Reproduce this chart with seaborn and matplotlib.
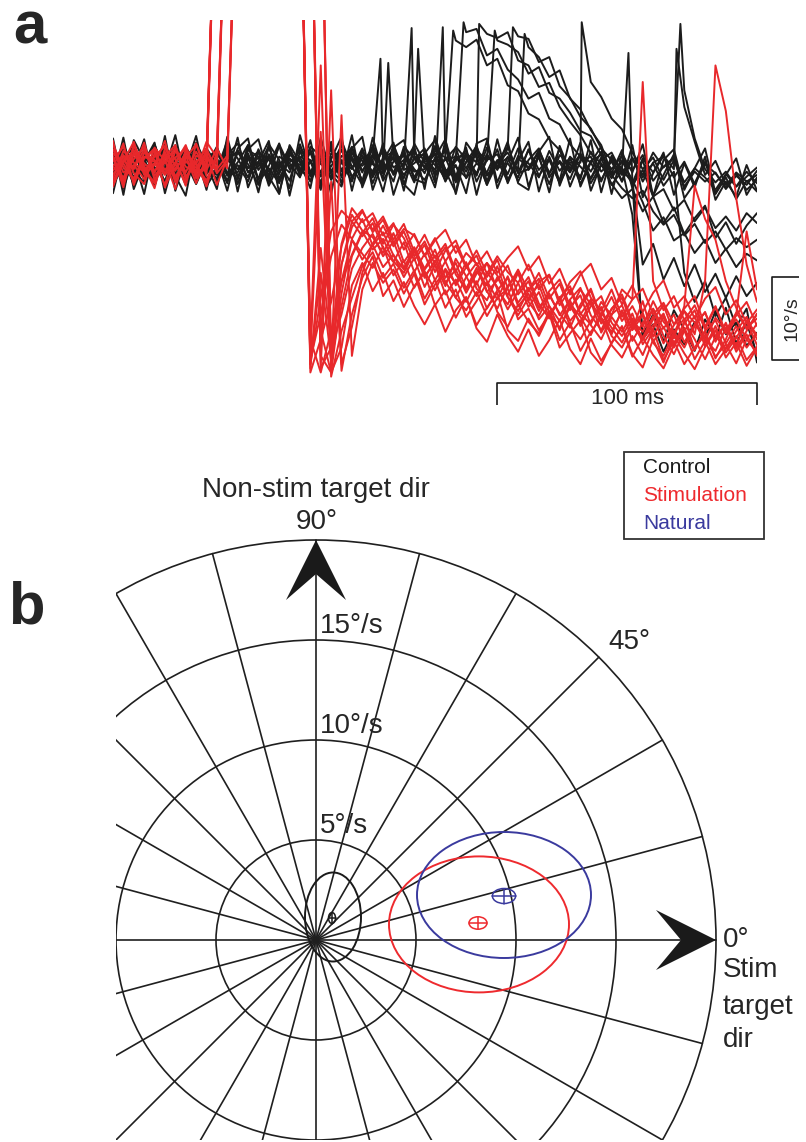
import numpy as np
import pandas as pd
import seaborn as sns
import matplotlib.pyplot as plt
from matplotlib.patches import Ellipse, Polygon, Circle
from matplotlib.lines import Line2D

# ---------------- panel a : eye velocity traces (deg/s), one sample every 4 ms
DT = 4

c01 = [1.2, -0.8, 2.1, -1.5, 0.4, 2.6, -0.9, 1.1, -2.2, 0.7,
       1.9, -1.0, 0.3, 2.4, -1.8, 0.9, -0.2, 2.0, -1.3, 0.6,
       -2.1, 1.4, 0.2, 2.2, -0.7, 1.0, -0.3, 0.8, -1.6, 1.7,
       -0.4, 2.3, -1.2, 0.5, 1.8, -2.0, 0.6, 1.3, -1.1, 2.0,
       -0.6, 0.9, -2.3, 1.2, 0.1, -1.4, 1.6, -0.8, 0.4, -2.0,
       0.7, -1.2, 1.5, -0.3, 0.8, 9.0, 3.2, -0.5, -2.1, -0.8,
       -2.6, -1.4, -0.3]
c02 = [-1.5, 0.9, -2.4, 1.6, -0.3, -1.9, 1.4, -0.6, 2.3, -1.1,
       0.5, -2.2, 1.8, -0.4, 0.9, -1.7, 2.5, -0.2, 1.0, -2.0,
       0.8, -0.9, 1.9, -1.4, 0.2, 2.1, -0.8, 0.6, 1.2, -1.5,
       0.9, -0.6, 2.0, -1.8, 0.4, 1.1, -2.4, 0.3, 1.5, -0.9,
       1.8, -1.3, 0.6, -2.1, 1.0, -0.2, -1.6, 0.9, -2.4, -0.7,
       -1.9, -12.0, -9.5, -13.8, -11.2, -14.6, -12.0, -15.3, -13.1, -16.0,
       -13.4, -15.8, -14.2]
c03 = [0.3, 2.2, -1.0, 0.8, -2.5, 1.5, 0.1, -1.3, 2.0, -0.5,
       -1.6, 1.2, 2.6, -0.9, 0.4, -2.1, 1.0, 0.2, -1.5, 2.2,
       1.1, -1.7, 0.6, -0.5, 2.0, -2.2, 0.9, 1.6, -0.4, 0.9,
       1.3, -1.0, 0.7, 2.1, -1.6, 0.2, -0.9, 1.9, -2.2, 0.8,
       -0.3, 1.5, -1.1, 2.0, -2.6, 0.5, 1.0, -1.8, 0.6, -0.4,
       -2.2, 0.8, -0.9, 1.1, -0.5, 7.0, 2.8, -1.2, 0.5, -2.4,
       -1.0, -3.0, -1.8]
c04 = [-2.3, -0.2, 1.7, -1.1, 0.9, -0.5, 2.4, -1.9, 0.3, 1.3,
       -0.8, 2.0, -1.4, 0.6, 1.6, -2.5, 0.2, -0.9, 2.1, 0.4,
       -1.3, 2.3, -0.6, 1.0, -2.0, 0.7, 1.5, -1.2, 0.3, 2.0,
       0.4, 0.5, -1.8, 1.2, -0.4, 2.2, -1.3, 0.6, -2.0, 1.1,
       0.2, -1.5, 1.7, -0.7, 0.9, -2.3, 0.5, 1.2, -1.0, -0.3,
       -6.0, -20.5, -18.0, -21.3, -17.5, -19.8, -22.4, -18.6, -20.9, -17.2,
       -21.5, -19.0, -22.8]
c05 = [1.6, -1.2, 0.5, 2.3, -0.7, 0.1, -2.1, 1.8, -0.3, 0.9,
       -2.0, 0.6, -0.5, 1.4, -1.7, 2.1, -0.8, 0.3, 1.7, -1.4,
       0.4, 1.9, -2.3, 0.8, -0.1, 1.2, -1.5, 2.4, -0.6, 0.2,
       1.5, -2.1, 0.6, 1.0, -0.8, 1.7, -1.9, 0.4, 2.2, -1.0,
       -0.5, 1.8, -0.9, 0.3, -1.7, 1.4, -2.2, 0.0, -1.2, -2.8,
       -4.0, -3.1, -5.6, -7.2, -6.0, -8.5, -7.1, -9.4, -8.0, -10.2,
       -8.8, -9.9, -9.0]
c06 = [-0.6, 1.9, -1.7, 0.2, 2.5, -1.0, 0.8, -2.4, 1.1, -0.1,
       2.2, -1.3, 0.0, -2.0, 1.5, 0.6, -1.1, 1.9, -0.4, -1.9,
       1.3, -0.2, 2.4, -1.6, 0.9, -0.8, 2.0, -1.0, 1.4, -0.5,
       -1.8, 0.7, 1.6, 15.0, 14.2, 15.1, 12.0, 12.8, 9.6, 8.9,
       6.2, 5.5, 3.1, 1.8, -0.4, 1.3, -1.7, 0.6, 1.5, -1.0,
       0.9, -2.0, 0.3, 1.0, -1.5, 0.4, -2.3, 0.1, -1.0, -2.7,
       -0.9, -2.0, -1.2]
c07 = [2.0, 0.4, -1.5, 1.2, -0.9, 2.3, -0.3, 0.6, -1.8, 1.5,
       -0.7, 1.6, -2.3, 0.9, 0.2, -1.2, 2.3, -0.5, 0.8, 1.9,
       -1.4, 0.5, -0.8, 2.1, -2.2, 1.3, 0.1, -0.9, 1.8, -1.7,
       0.6, 1.4, -1.0, 0.8, 16.0, 16.4, 13.2, 14.0, 11.5, 10.3,
       8.0, 8.7, 5.6, 4.9, 2.5, 1.0, -0.8, 1.6, -1.3, 0.4,
       -0.6, 1.2, -1.9, -0.2, 0.9, -2.1, -0.4, -1.5, -3.0, -1.1,
       -2.6, -0.8, -2.2]
c08 = [-1.1, 0.7, 2.2, -1.9, 1.0, -0.4, 1.5, 0.3, -2.3, 0.6,
       1.3, -0.3, -1.8, 2.4, -0.6, 1.1, -2.0, 0.7, 0.0, 1.6,
       -2.4, 0.9, 1.7, -0.3, 1.2, -1.4, 0.5, -2.0, 2.2, 0.8,
       -1.0, 2.1, -0.5, -1.7, 1.4, 0.3, 15.8, 15.3, 16.0, 12.6,
       12.0, 9.4, 9.9, 7.0, 5.2, 3.6, 1.4, 0.2, -1.6, 0.5,
       -1.8, -4.5, -7.9, -6.3, -9.1, -8.2, -10.6, -9.0, -11.8, -10.1,
       -12.3, -10.7, -11.5]
c09 = [0.9, -2.0, 0.1, 1.8, -1.3, 0.5, -0.7, 2.1, 0.4, -1.6,
       -0.4, 2.3, 0.8, -1.5, 1.9, -0.8, 0.4, -1.9, 2.5, -1.0,
       0.2, -1.5, 1.1, 0.6, -1.9, 2.4, -0.4, 1.0, -1.2, 0.7,
       2.0, -1.4, 0.9, -0.2, -1.5, 1.8, 0.5, 15.0, 14.5, 13.6,
       11.0, 11.8, 8.7, 8.0, 6.3, 4.1, 3.5, 1.2, -0.5, 1.1,
       -2.4, -0.6, -3.8, -2.9, -5.5, -4.2, -6.8, -5.1, -7.6, -6.2,
       -7.9, -5.8, -7.0]
c10 = [-1.7, 1.3, -0.5, -2.2, 0.8, 1.9, -1.2, 0.2, 1.4, -0.8,
       0.8, -1.9, 1.5, 0.1, -2.4, 1.3, -0.5, 2.2, -1.1, 0.3,
       1.7, -0.6, -2.0, 1.4, 0.5, -1.1, 2.2, -0.3, 0.6, -2.1,
       1.2, 0.0, -1.4, 2.2, 0.7, -1.0, 1.3, -0.6, 2.0, 15.5,
       15.2, 12.4, 13.0, 9.5, 8.1, 5.8, 4.4, 2.0, 0.6, -1.2,
       0.8, -1.5, 0.2, -2.5, -0.8, -13.0, -16.5, -14.0, -18.2, -16.0,
       -19.5, -17.3, -23.8]
c11 = [0.4, -1.4, 1.9, 0.0, -2.1, 1.1, 0.6, -1.5, 2.4, -0.2,
       -1.2, 0.5, 1.7, -0.8, -0.2, 2.3, -1.6, 0.8, -0.7, 1.5,
       -0.9, 2.0, 0.4, -2.0, 1.6, 0.1, -1.0, 1.9, -2.3, 1.0,
       -0.2, 1.3, -2.0, 0.9, 1.1, -1.3, 2.1, -0.4, 0.2, -1.5,
       1.9, -0.6, 0.8, -2.2, 0.3, 0.3, 10.0, 8.2, 5.6, 4.3,
       1.5, -0.5, 0.9, -1.8, 0.6, -2.6, -0.8, -2.0, -0.9, -2.9,
       -1.3, -2.4, -0.7]
c12 = [-0.9, 2.4, -0.3, -1.0, 1.4, -2.2, 0.5, 1.7, -0.6, 2.0,
       0.1, -1.1, -0.9, 1.8, 1.0, -0.4, -2.2, 1.2, 0.5, -1.2,
       2.3, -1.8, 0.3, 1.5, -0.9, 2.0, -1.9, 0.4, 1.1, -0.8,
       -0.5, 1.7, 0.9, -2.1, 0.3, 2.3, -1.2, -0.1, 0.9, -2.0,
       0.6, 2.0, -1.5, 0.5, -0.9, 1.2, 0.3, -2.0, 1.0, -0.5,
       -2.0, -21.0, -19.2, -22.5, -19.8, -21.6, -18.9, -20.8, -17.6, -20.4,
       -19.0, -21.8, -20.2]
c13 = [3.2, -2.8, 0.9, -3.5, 2.4, -0.6, 3.6, -2.2, 1.3, -3.0,
       2.1, -1.2, 3.3, -2.7, 0.4, 2.9, -3.4, 1.6, -0.8, 3.0,
       -2.5, 0.7, 3.4, -3.1, 1.9, -1.5, 2.6, -3.6, 0.2, 2.3,
       -2.9, 3.5, -0.7, -3.3, 2.7, 0.9, -2.4, 3.1, -1.8, 0.5,
       2.8, -3.2, 1.0, -1.9, 3.2, -2.6, 0.3, 2.2, -3.5, 1.4,
       -0.9, 2.5, -3.8, 0.6, 1.9, -3.0, -0.4, 2.0, -3.4, -1.2,
       0.8, -3.6, -1.5]
c14 = [-3.4, 1.8, -0.5, 3.1, -2.6, 2.2, -1.3, -3.7, 2.7, 0.1,
       -2.9, 3.4, -1.6, 1.1, -3.3, 2.5, 0.6, -2.8, 3.6, -0.9,
       1.5, -3.5, 2.9, -0.2, -2.4, 3.3, -1.0, 1.8, -3.1, 2.6,
       0.3, -2.7, 3.0, -1.4, 2.1, -3.6, 1.2, -0.3, 2.8, -2.2,
       -3.0, 1.6, 3.4, -2.5, 0.8, -1.7, 3.0, -3.3, 1.1, -2.0,
       2.4, -3.9, -1.0, 1.5, -3.6, 0.2, -2.7, 1.0, -4.2, -2.0,
       -3.8, 0.0, -3.1]
c15 = [2.5, -3.6, 3.0, 0.6, -2.0, 3.5, -3.1, 0.9, 2.1, -2.5,
       -0.6, 2.9, -3.2, 1.9, 3.1, -1.4, -3.5, 2.4, 0.3, -2.8,
       3.3, -1.1, -2.6, 2.0, 3.4, -3.0, 0.5, 2.7, -2.3, -3.6,
       1.4, 3.0, -1.9, 0.0, -3.4, 2.6, 3.2, -2.1, 1.0, -0.5,
       14.2, 13.0, 10.6, 11.4, 8.0, 6.7, 4.2, 2.4, -1.0, 1.8,
       -2.8, 0.6, -3.7, -1.2, 1.3, -4.0, -2.2, 0.4, -3.5, -1.5,
       -4.1, -1.9, -3.2]
c16 = [-1.9, 3.3, -2.9, 0.4, 2.7, -3.4, 1.2, -0.4, 3.5, -2.1,
       0.8, -3.1, 2.0, 3.2, -2.3, -0.1, 2.6, -3.7, 1.7, 0.5,
       -3.0, 2.8, -1.5, 3.6, -2.7, 0.6, -3.2, 2.1, 3.0, -1.7,
       -2.2, 0.9, 3.1, -3.5, 1.5, -1.2, 2.9, -2.8, 0.4, 3.3,
       -2.6, 1.2, -3.3, 2.3, -0.8, 2.7, -3.1, 0.1, -2.3, -4.0,
       -2.9, -5.6, -3.8, -7.0, -5.1, -8.3, -6.4, -4.9, -8.8, -6.9,
       -9.5, -7.3, -5.8]

# saccade peaks between samples: (time ms, velocity)
control_spikes = {
    'c01': [(103, 12.8), (218.5, 17.0)],
    'c02': [(106, 12.3)],
    'c03': [(115, 16.5), (217, 14.0)],
    'c04': [(117.5, 14.0)],
    'c05': [(127, 16.6)],
    'c06': [(131, 16.2)],
    'c07': [(135, 17.2)],
    'c08': [(141, 17.0)],
    'c09': [(147, 16.2)],
    'c10': [(154, 16.6)],
    'c11': [(180.5, 17.2)],
    'c12': [(198.5, 13.5)],
    'c15': [(158.5, 15.8)],
}

# stimulation trials (40 = off the top of the panel during the artefact)
s01 = [1.0, -1.8, 2.3, 0.2, -0.9, 1.6, -2.1, 0.8, 2.5, -0.4,
       40, 40, 40, 40, 40, 40, 40, 40, 40, -24.0,
       -13.0, -23.5, -12.0, -7.5, -5.6, -7.8, -6.2, -9.0, -7.1, -10.5,
       -8.4, -11.2, -9.5, -12.8, -10.6, -11.9, -13.5, -11.4, -14.8, -12.6,
       -15.2, -13.0, -16.1, -14.3, -17.5, -15.0, -16.8, -18.2, -15.9, -18.8,
       -17.0, -19.5, -16.4, -18.9, -20.3, -17.6, -19.0, -21.2, -18.4, -20.0,
       -17.8, -19.6, -18.5]
s02 = [-2.0, 0.6, -0.5, 1.9, -1.3, 0.3, 2.1, -1.7, 0.5, 1.2,
       -0.8, 40, 40, 40, 40, 40, 40, 40, 40, -25.0,
       -21.0, -16.5, -9.8, -6.0, -7.9, -8.7, -10.6, -8.2, -11.7, -9.9,
       -12.5, -10.2, -13.6, -11.8, -14.9, -12.4, -15.3, -13.9, -12.1, -15.6,
       -14.0, -17.2, -15.5, -18.1, -16.3, -19.4, -17.0, -15.8, -19.0, -20.6,
       -18.5, -21.0, -19.3, -17.9, -21.8, -19.6, -22.3, -20.0, -18.7, -21.5,
       -19.4, -22.0, -20.3]
s03 = [0.5, 2.2, -1.0, -2.3, 1.4, -0.6, 0.9, 2.0, -1.5, 0.2,
       40, 40, 40, 40, 40, 40, 40, 40, 40, -22.0,
       12.0, -23.5, -17.0, -11.0, -8.2, -6.4, -9.5, -7.2, -8.8, -11.5,
       -9.6, -12.9, -10.3, -9.1, -12.2, -14.4, -11.8, -13.3, -15.7, -13.0,
       -16.4, -14.1, -13.2, -16.9, -15.0, -18.0, -16.2, -19.1, -17.4, -15.6,
       -18.8, -20.1, -17.3, -19.7, -18.0, -21.4, -19.2, -17.8, -20.6, -22.1,
       -20.0, -18.3, -21.0]
s04 = [-1.1, 0.3, 1.8, -0.4, -2.2, 0.9, -0.7, 1.5, 0.0, -1.9,
       1.3, 40, 40, 40, 40, 40, 40, 40, 40, 40,
       -24.5, -22.0, -18.0, -12.5, -10.0, -8.3, -11.0, -9.2, -12.4, -10.1,
       -13.6, -11.5, -14.2, -12.6, -15.4, -13.1, -11.8, -15.0, -16.8, -14.2,
       -17.1, -15.3, -18.4, -16.0, -14.6, -17.9, -19.2, -16.5, -18.1, -15.0,
       -16.2, 10.0, -14.0, -17.5, -15.8, -18.7, -16.9, -19.8, -17.1, -20.2,
       -18.6, -21.0, -19.1]
s05 = [2.4, -0.3, -1.6, 1.0, 0.4, -2.4, 1.7, -0.2, -1.0, 1.8,
       -0.5, 1.1, 40, 40, 40, 40, 40, 40, 40, 40,
       -23.0, -25.0, -15.5, -9.0, -11.4, -9.6, -12.3, -10.8, -13.5, -11.2,
       -14.7, -12.0, -15.6, -13.8, -16.5, -14.0, -17.3, -15.1, -13.6, -17.0,
       -15.5, -18.6, -17.0, -19.9, -16.7, -18.3, -20.5, -17.8, -19.6, -21.4,
       -19.0, -20.8, -18.2, -21.5, -19.3, -17.6, -20.4, -14.0, 12.0, 6.5,
       -4.0, -12.0, -16.5]
s06 = [-0.2, -1.5, 0.7, 2.2, -0.8, 1.3, 0.1, -2.0, 1.1, 0.6,
       40, 40, 40, 40, 40, 40, 40, 40, 40, 40,
       40, -25.5, -20.0, -16.0, -12.2, -10.5, -13.6, -11.9, -14.8, -12.7,
       -16.1, -13.8, -17.2, -15.0, -18.3, -16.4, -14.2, -17.7, -19.5, -16.8,
       -18.9, -20.3, -17.6, -21.1, -19.0, -22.4, -20.1, -18.4, -21.7, -23.2,
       -20.6, -22.9, -19.8, -23.5, -21.2, -24.0, -22.0, -20.5, -23.1, -21.6,
       -23.9, -21.0, -22.6]
s07 = [1.4, 0.2, -1.9, 0.8, 2.0, -1.1, -0.4, 1.2, -2.2, 0.9,
       40, 40, 40, 40, 40, 40, 40, 40, 40, -23.0,
       4.0, -24.0, -12.0, -6.8, -8.6, -7.0, -10.0, -11.7, -9.3, -12.9,
       -10.7, -13.9, -11.6, -14.5, -12.3, -10.9, -14.0, -16.2, -13.4, -16.6,
       -14.8, -17.6, -15.2, -13.8, -17.0, -19.0, -16.4, -20.2, -18.0, -16.9,
       -19.9, -18.1, -21.3, -19.5, -22.0, -18.8, -21.0, -23.4, -20.7, -19.2,
       -22.5, -20.4, -23.0]
s08 = [-1.6, 1.7, 0.3, -0.9, 1.0, 2.3, -1.4, 0.4, -0.3, -2.1,
       0.7, 40, 40, 40, 40, 40, 40, 40, 40, 40,
       -22.5, 9.0, -24.0, -19.5, -13.0, -9.5, -7.3, -9.8, -8.0, -11.0,
       -9.2, -12.0, -14.6, -11.3, -13.4, -15.8, -12.9, -14.7, -17.4, -15.2,
       -13.5, -16.7, -18.5, -15.9, -18.8, -17.2, -15.1, -18.6, -20.4, -17.5,
       -21.2, -19.0, -17.4, -20.6, -22.8, -20.0, -18.2, -21.9, -19.4, -22.6,
       -20.8, -18.9, -21.7]
s09 = [0.8, -2.3, 1.3, -0.5, 0.2, -1.2, 2.2, -0.9, 1.6, -0.6,
       2.0, -0.4, 40, 40, 40, 40, 40, 40, 40, -21.0,
       -25.0, -20.0, -14.0, -10.8, -8.0, -10.2, -8.9, -11.6, -13.0, -10.4,
       -12.8, -15.1, -12.5, -14.3, -11.7, -14.9, -16.3, -13.5, -15.9, -18.1,
       -16.0, -14.4, -17.8, -19.6, -17.1, -15.7, -19.3, -21.0, -18.3, -20.1,
       -17.9, -21.6, -19.7, -18.0, -20.9, -17.0, -2.5, -6.5, -9.0, -14.0,
       -17.2, -19.8, -18.0]
s10 = [-0.7, 1.0, -2.1, 1.5, 0.6, -1.0, 0.3, 2.4, -1.2, 0.1,
       40, 40, 40, 40, 40, 40, 40, 40, 40, -24.0,
       -16.0, -8.0, -5.5, -6.8, -5.4, -8.1, -6.6, -9.4, -7.7, -8.5,
       -10.9, -8.8, -11.6, -9.7, -12.4, -10.3, -13.1, -11.0, -12.9, -14.2,
       -12.0, -15.0, -13.3, -16.4, -14.1, -12.8, -16.0, -17.6, -15.0, -18.3,
       -16.2, -14.9, -18.0, -16.6, -19.2, -17.3, -15.8, -19.5, -17.0, -20.3,
       -18.1, -16.5, -19.4]
s11 = [1.9, -0.9, 0.0, -1.7, 2.1, 0.5, -1.6, 1.0, 0.2, 2.0,
       -1.0, 0.6, 40, 40, 40, 40, 40, 40, 40, 40,
       40, -24.0, 6.0, -23.0, -15.0, -11.8, -14.2, -12.6, -15.5, -13.1,
       -16.8, -14.4, -12.7, -16.0, -17.5, -15.3, -18.2, -16.0, -14.9, -18.6,
       -17.3, -19.9, -18.0, -16.2, -19.4, -21.0, -18.8, -17.1, -20.6, -22.0,
       -19.5, -17.8, -21.4, -23.0, -20.2, -18.5, -22.2, -20.0, -23.3, -21.0,
       -18.0, -8.0, -15.0]
s12 = [-2.6, 1.2, -0.4, 2.7, -1.8, 0.6, -2.9, 1.9, -0.8, 2.8,
       0.9, 40, 40, 40, 40, 40, 40, 40, 40, 40,
       -20.0, -25.0, -22.0, -14.5, -11.8, -15.2, -13.0, -16.4, -14.1, -17.0,
       -19.2, -16.8, -20.1, -17.5, -15.9, -19.7, -21.3, -18.0, -20.6, -22.5,
       -19.8, -23.0, -21.1, -18.6, -22.2, -24.0, -20.9, -23.6, -21.5, -19.4,
       -22.8, -24.4, -21.0, -23.8, -20.5, -22.7, -24.6, -21.9, -19.9, -23.2,
       -21.4, -24.2, -22.0]
s13 = [2.9, -2.2, 1.5, -0.1, -2.8, 2.0, 0.7, -2.5, 2.6, -1.3,
       40, 40, 40, 40, 40, 40, 40, 40, 40, -24.5,
       -10.0, -22.0, -9.5, -5.2, -6.9, -5.8, -8.5, -7.0, -10.2, -8.3,
       -11.0, -9.1, -7.8, -10.6, -9.0, -12.1, -10.4, -13.0, -11.2, -9.8,
       -12.7, -11.0, -14.3, -12.5, -15.6, -13.2, -11.9, -15.0, -13.6, -16.8,
       -14.5, -17.7, -15.4, -13.9, -17.2, -15.8, -18.5, -16.1, -14.7, -18.0,
       -16.3, -19.1, -17.4]
s14 = [-0.3, 2.6, -2.4, 0.9, 1.7, -2.7, 0.2, 2.2, -1.6, -0.2,
       40, 40, 40, 40, 40, 40, 40, 40, 40, 40,
       40, -23.0, -14.0, -9.0, -10.7, -12.4, -9.8, -13.3, -11.5, -14.8,
       -12.6, -10.9, -14.1, -16.0, -13.5, -11.8, -15.2, -17.3, -14.6, -12.9,
       -16.5, -18.2, -15.7, -17.9, -19.6, -16.8, -14.9, -18.4, -20.1, -17.6,
       -19.8, -16.4, -20.7, -18.3, -21.6, -19.1, -17.5, -21.0, -22.4, -19.6,
       -21.8, -18.7, -20.5]
s15 = [1.1, -2.7, 2.5, -1.2, 0.0, 2.9, -2.0, 0.5, -1.0, 1.4,
       -2.4, 0.8, 40, 40, 40, 40, 40, 40, 40, 40,
       -24.0, -2.0, -24.8, -18.0, -13.6, -11.0, -15.8, -13.9, -17.1, -14.6,
       -13.0, -16.9, -15.1, -18.4, -16.0, -19.3, -17.2, -15.4, -19.9, -21.2,
       -18.5, -20.6, -17.9, -22.0, -20.3, -18.7, -22.6, -24.1, -21.4, -19.5,
       -23.1, -20.8, -22.9, -24.5, -21.7, -19.9, -23.4, -21.2, -24.0, -22.2,
       -20.6, -23.5, -21.9]
s16 = [-2.5, 0.4, 2.8, -0.9, -2.0, 1.0, 2.4, -1.4, 0.3, -2.6,
       1.6, 40, 40, 40, 40, 40, 40, 40, 40, -23.5,
       -18.0, -11.0, -7.2, -8.9, -6.5, -9.7, -8.1, -10.9, -12.6, -10.0,
       -13.4, -11.7, -9.9, -13.2, -15.0, -12.8, -14.5, -12.2, -15.9, -17.6,
       -15.1, -13.7, -17.0, -18.8, -16.2, -14.8, -18.1, -19.9, -17.3, -16.0,
       -19.3, -21.1, -18.6, -16.9, -20.2, -22.0, -19.4, -17.7, -21.3, -19.0,
       -22.1, -20.0, -17.9]

control = {'c01': c01, 'c02': c02, 'c03': c03, 'c04': c04, 'c05': c05, 'c06': c06,
           'c07': c07, 'c08': c08, 'c09': c09, 'c10': c10, 'c11': c11, 'c12': c12,
           'c13': c13, 'c14': c14, 'c15': c15, 'c16': c16}
stimulation = {'s01': s01, 's02': s02, 's03': s03, 's04': s04, 's05': s05, 's06': s06,
               's07': s07, 's08': s08, 's09': s09, 's10': s10, 's11': s11, 's12': s12,
               's13': s13, 's14': s14, 's15': s15, 's16': s16}

# ---------------- panel b : polar plot (deg/s)
rings = [5, 10, 15, 20]
spoke_deg = list(range(0, 360, 15))
ring_labels = ['5°/s', '10°/s', '15°/s']
# mean (x, y) and ellipse (cx, cy, width, height) per condition
conditions = ['Control', 'Stimulation', 'Natural']
cond_colors = ['#1a1a1a', '#ee2a2e', '#3a3a9e']
mean_xy = [(0.8, 1.1), (8.1, 0.85), (9.4, 2.2)]
mean_size = [(0.35, 0.55), (0.9, 0.62), (1.16, 0.75)]
ellipses = [(0.85, 1.15, 2.8, 4.45), (8.15, 0.78, 9.0, 6.8), (9.4, 2.25, 8.7, 6.3)]

# ---------------------------------------------------------------- drawing
sns.set_theme(style='white')
plt.rcParams['font.family'] = ['Liberation Sans', 'DejaVu Sans']

W, H = 806, 1142
fig = plt.figure(figsize=(W / 100, H / 100), dpi=100)


def px_axes(x0, y0, x1, y1):
    return fig.add_axes([x0 / W, 1 - y1 / H, (x1 - x0) / W, (y1 - y0) / H])


rows = []
for cond, traces, spikes in [('Control', control, control_spikes),
                             ('Stimulation', stimulation, {})]:
    for name, vals in traces.items():
        for i, v in enumerate(vals):
            rows.append((cond, name, i * DT, v))
        for ts, vs in spikes.get(name, []):
            rows.append((cond, name, ts, vs))
df = pd.DataFrame(rows, columns=['condition', 'trial', 't', 'v'])
df = df.sort_values(['trial', 't'])

# baseline at y=165px, 8.3 px per deg/s, 2.6 px per ms
ax_a = px_axes(113, 20, 757, 410)
sns.lineplot(data=df, x='t', y='v', hue='condition', units='trial', estimator=None,
             hue_order=['Control', 'Stimulation'],
             palette={'Control': '#1c1c1c', 'Stimulation': '#e8282b'},
             lw=1.4, legend=False, ax=ax_a)
ax_a.set_xlim(0, 248)
ax_a.set_ylim(-29.52, 17.47)
ax_a.set_axis_off()

# scale bars
kw = dict(color='#1a1a1a', lw=1.2, clip_on=False, solid_capstyle='butt')
ax_a.plot([148, 148, 248, 248], [-28.9, -26.3, -26.3, -28.9], **kw)
ax_a.text(198, -28.1, '100 ms', ha='center', va='center', fontsize=16)
ax_a.plot([264, 253.8, 253.8, 264], [-13.5, -13.5, -23.5, -23.5], **kw)
ax_a.text(261.5, -18.5, '10°/s', ha='center', va='center', rotation=90, fontsize=14)

# polar panel: centre at (316, 940) px, 20 px per deg/s
ax_b = px_axes(116, 440, 806, 1140)
ax_b.set_xlim(-10, 24.5)
ax_b.set_ylim(-10, 25)
ax_b.set_axis_off()
grid_c = '#1f1f1f'
for r in rings:
    ax_b.add_patch(Circle((0, 0), r, fill=False, lw=1.2, ec=grid_c))
for a in spoke_deg:
    th = np.deg2rad(a)
    ax_b.plot([0, 20 * np.cos(th)], [0, 20 * np.sin(th)], color=grid_c, lw=1.2)

# arrowheads at 90 and 0 deg
ax_b.add_patch(Polygon([(0, 20), (1.5, 17.0), (0, 18.3), (-1.5, 17.0)],
                       closed=True, fc='#1a1a1a', ec='none', zorder=3))
ax_b.add_patch(Polygon([(20, 0), (17.0, 1.5), (18.25, 0), (17.0, -1.5)],
                       closed=True, fc='#1a1a1a', ec='none', zorder=3))

for (cx, cy, w, h), col in zip(ellipses, cond_colors):
    ax_b.add_patch(Ellipse((cx, cy), w, h, fill=False, ec=col, lw=1.4, zorder=4))
for (mx, my), (mw, mh), col in zip(mean_xy, mean_size, cond_colors):
    ax_b.add_patch(Ellipse((mx, my), mw, mh, fill=False, ec=col, lw=1.1, zorder=5))
    ax_b.plot([mx - mw / 2, mx + mw / 2], [my, my], color=col, lw=1.1, zorder=5)
    ax_b.plot([mx, mx], [my - mh / 2, my + mh / 2], color=col, lw=1.1, zorder=5)

fs = 20
for r, lab in zip(rings, ring_labels):
    ax_b.text(0.2, r + 0.05, lab, ha='left', va='bottom', fontsize=fs)
ax_b.text(14.6, 14.9, '45°', ha='left', va='center', fontsize=fs)
ax_b.text(0.05, 20.9, '90°', ha='center', va='center', fontsize=fs)
ax_b.text(0.0, 22.5, 'Non-stim target dir', ha='center', va='center', fontsize=fs)
for y, lab in zip([0.0, -1.5, -3.35, -5.0], ['0°', 'Stim', 'target', 'dir']):
    ax_b.text(20.35, y, lab, ha='left', va='center', fontsize=fs)

handles = [Line2D([], [], ls='none') for _ in conditions]
leg = ax_b.legend(handles, conditions, loc='upper left', mode='expand',
                  bbox_to_anchor=(624 / W, 1 - 554 / H, 140 / W, 102 / H),
                  bbox_transform=fig.transFigure, borderaxespad=0,
                  fontsize=15, labelcolor=cond_colors, frameon=True,
                  fancybox=False, framealpha=1, edgecolor='#333333',
                  handlelength=0.4, handletextpad=0.22, borderpad=0.3,
                  labelspacing=0.43)
leg.get_frame().set_linewidth(1.3)

fig.text(13 / W, 1 - 44 / H, 'a', fontsize=43, fontweight='bold', va='baseline', ha='left')
fig.text(8 / W, 1 - 623 / H, 'b', fontsize=43, fontweight='bold', va='baseline', ha='left')

fig.savefig('out.png', dpi=100)
